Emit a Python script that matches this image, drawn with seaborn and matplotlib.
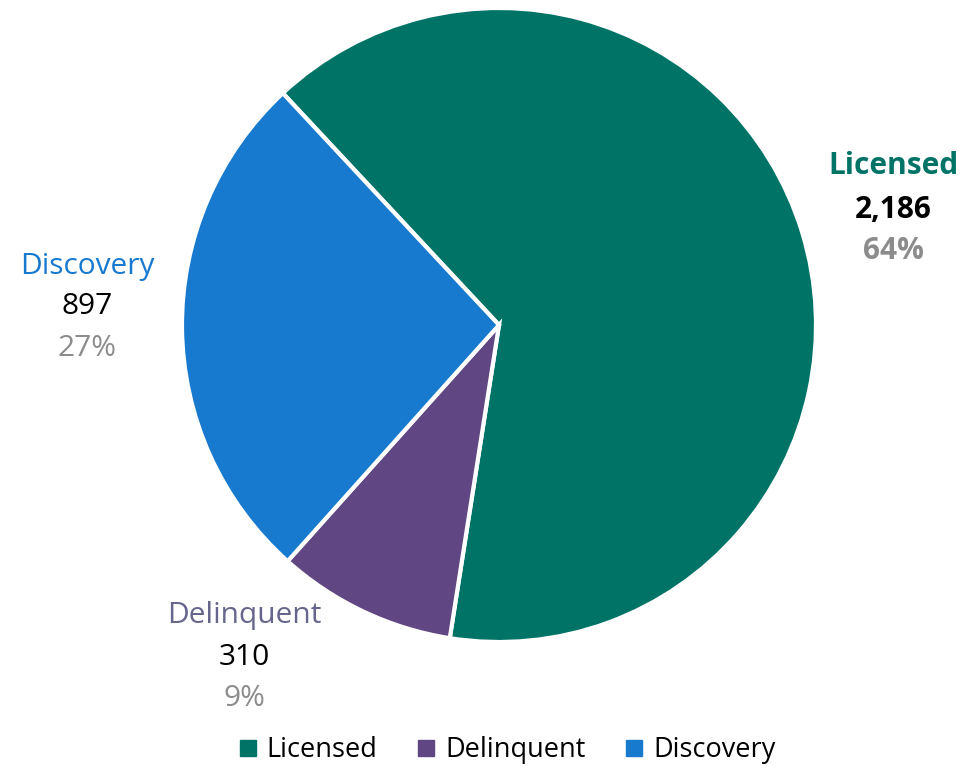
import matplotlib
matplotlib.use("Agg")
import matplotlib.pyplot as plt
import seaborn as sns
from matplotlib.lines import Line2D

categories = ["Licensed", "Delinquent", "Discovery"]
values = [2186, 310, 897]
percents = ["64%", "9%", "27%"]
value_labels = ["2,186", "310", "897"]

colors = ["#007367", "#604682", "#187ACF"]
label_colors = ["#007367", "#66668C", "#187ACF"]

sns.set_theme(style="white")
plt.rcParams['font.family'] = ['Open Sans', 'DejaVu Sans']
plt.rcParams['text.color'] = 'black'

fig = plt.figure(figsize=(9.64, 7.66), dpi=100)
ax = fig.add_axes([182 / 964, 124 / 766, 634 / 964, 634 / 766])
wedges, _ = ax.pie(values, colors=sns.color_palette(colors), startangle=133,
                   counterclock=False, radius=1,
                   wedgeprops=dict(edgecolor="white", linewidth=3))
ax.set_xlim(-1, 1)
ax.set_ylim(-1, 1)
ax.set_aspect("equal")
ax.axis("off")

# label layout (positions in axes data units)
label_pos = {"Licensed": (1.243, [0.50, 0.362, 0.235]),
             "Delinquent": (-0.804, [-0.915, -1.050, -1.177]),
             "Discovery": (-1.30, [0.186, 0.058, -0.075])}
fs = 21.5
for i, cat in enumerate(categories):
    x, ys = label_pos[cat]
    bold = "bold" if cat == "Licensed" else "normal"
    ax.text(x, ys[0], cat, color=label_colors[i], fontsize=fs, fontweight=bold,
            ha="center", va="center", clip_on=False)
    ax.text(x, ys[1], value_labels[i], color="black", fontsize=fs, fontweight=bold,
            ha="center", va="center", clip_on=False)
    ax.text(x, ys[2], percents[i], color="#8C8C8C", fontsize=fs, fontweight=bold,
            ha="center", va="center", clip_on=False)

handles = [Line2D([0], [0], marker="s", linestyle="none", markersize=11,
                  markerfacecolor=c, markeredgecolor=c) for c in colors]
leg = fig.legend(handles, categories, loc="center", bbox_to_anchor=(505 / 964, 1 - 750 / 766),
                 ncol=3, frameon=False, fontsize=19.5, handletextpad=0.2, columnspacing=1.3,
                 handlelength=1.0)
for t in leg.get_texts():
    t.set_color("black")

fig.savefig("out.png", dpi=100)
